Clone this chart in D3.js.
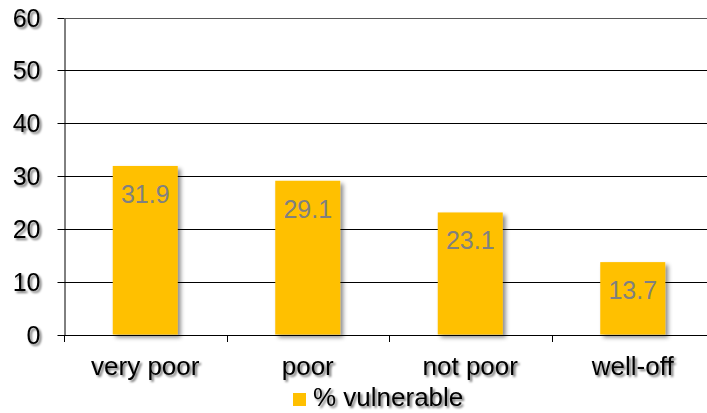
<!DOCTYPE html>
<html>
<head>
<meta charset="utf-8">
<script src="https://cdn.jsdelivr.net/npm/d3@7"></script>
<style>
  html, body { margin: 0; padding: 0; background: #fff; }
  svg { display: block; font-family: Arial, "Liberation Sans", sans-serif; }
</style>
</head>
<body>
<svg id="chart" width="707" height="413"></svg>
<script>
// Share of each wealth group that is vulnerable
const categories = ["very poor", "poor", "not poor", "well-off"];
const vulnerable = [31.9, 29.1, 23.1, 13.7];
const yTicks = [0, 10, 20, 30, 40, 50, 60];
const seriesName = "% vulnerable";

const barColor = "#FFC000";
const svg = d3.select("#chart");

const plot = { left: 64, right: 714, top: 17.5, bottom: 334.5 };

const x = d3.scaleBand()
  .domain(categories)
  .range([plot.left, plot.right])
  .paddingInner(0.6)
  .paddingOuter(0.3);

const y = d3.scaleLinear()
  .domain([0, 60])
  .range([plot.bottom, plot.top]);

// Drop shadows used for the bars and the dark text
const defs = svg.append("defs");
const barShadow = defs.append("filter").attr("id", "barShadow")
  .attr("x", "-20%").attr("y", "-20%").attr("width", "150%").attr("height", "150%");
barShadow.append("feDropShadow")
  .attr("dx", 3).attr("dy", 3).attr("stdDeviation", 2)
  .attr("flood-color", "#000").attr("flood-opacity", 0.45);

const textShadow = defs.append("filter").attr("id", "textShadow")
  .attr("x", "-20%").attr("y", "-30%").attr("width", "140%").attr("height", "170%");
textShadow.append("feDropShadow")
  .attr("dx", 2).attr("dy", 2).attr("stdDeviation", 1)
  .attr("flood-color", "#000").attr("flood-opacity", 0.55);

// Y axis with its tick labels
const yAxis = d3.axisLeft(y).tickValues(yTicks).tickSize(7).tickPadding(17).tickSizeOuter(0);
const gy = svg.append("g").attr("transform", `translate(${plot.left + 0.5},0)`).call(yAxis);
gy.select(".domain").attr("stroke", "#000");
gy.selectAll(".tick line").attr("stroke", "#000");
gy.selectAll(".tick text")
  .attr("font-size", 25).attr("fill", "#000")
  .attr("filter", "url(#textShadow)");
gy.selectAll(".tick").attr("transform", d => `translate(0,${Math.round(y(d)) + 0.5})`);

// Horizontal gridlines
svg.append("g").selectAll("line")
  .data(yTicks)
  .join("line")
  .attr("x1", plot.left)
  .attr("x2", 707)
  .attr("y1", d => Math.round(y(d)) + 0.5)
  .attr("y2", d => Math.round(y(d)) + 0.5)
  .attr("stroke", d => d === 60 ? "#555" : "#000")
  .attr("stroke-width", 1);

// Category boundary ticks along the x axis
const step = (plot.right - plot.left) / categories.length;
svg.append("g").selectAll("line")
  .data(d3.range(categories.length + 1))
  .join("line")
  .attr("x1", i => Math.round(plot.left + i * step) + 0.5)
  .attr("x2", i => Math.round(plot.left + i * step) + 0.5)
  .attr("y1", Math.round(y(0)))
  .attr("y2", Math.round(y(0)) + 7)
  .attr("stroke", "#000");

// Bars
svg.append("g").selectAll("rect")
  .data(vulnerable)
  .join("rect")
  .attr("x", (d, i) => x(categories[i]))
  .attr("y", d => y(d))
  .attr("width", x.bandwidth())
  .attr("height", d => y(0) - y(d))
  .attr("fill", barColor)
  .attr("filter", "url(#barShadow)");

// Value labels inside the bars
svg.append("g").selectAll("text")
  .data(vulnerable)
  .join("text")
  .attr("x", (d, i) => x(categories[i]) + x.bandwidth() / 2)
  .attr("y", d => y(d) + 37)
  .attr("text-anchor", "middle")
  .attr("font-size", 25)
  .attr("fill", "#808080")
  .text(d => d.toFixed(1));

// Category labels
svg.append("g").selectAll("text")
  .data(categories)
  .join("text")
  .attr("x", d => x(d) + x.bandwidth() / 2)
  .attr("y", 375)
  .attr("text-anchor", "middle")
  .attr("font-size", 26)
  .attr("fill", "#000")
  .attr("filter", "url(#textShadow)")
  .text(d => d);

// Legend
const legend = svg.append("g").attr("transform", "translate(293,393)");
legend.append("rect")
  .attr("width", 13).attr("height", 13)
  .attr("fill", barColor);
legend.append("text")
  .attr("x", 20).attr("y", 13)
  .attr("font-size", 26)
  .attr("fill", "#000")
  .attr("filter", "url(#textShadow)")
  .text(seriesName);
</script>
</body>
</html>
